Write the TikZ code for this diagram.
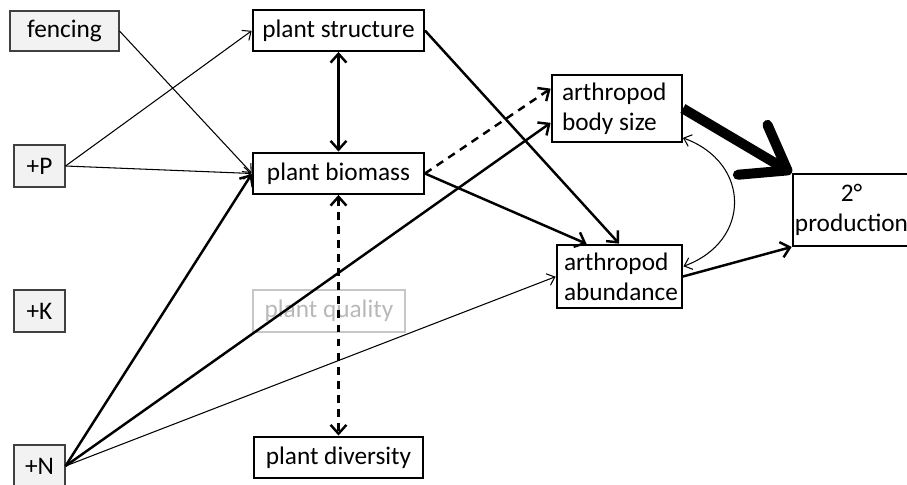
\documentclass[tikz,border=0pt]{standalone}
\usepackage{fontspec}
\setmainfont{Carlito}
\usetikzlibrary{arrows.meta}
\begin{document}
\begin{tikzpicture}[x=0.02cm, y=-0.02cm, shorten >=0.3pt,
main node/.style={rectangle,draw,line width=1.1pt,inner sep=0pt},
treat node/.style={rectangle,draw=black!75,fill=black!5,line width=0.6pt,inner sep=0pt,minimum width=1.02cm,minimum height=0.84cm},
thin path/.style={line width=0.6pt,-{Straight Barb[length=4pt,width=7pt]}},
thick path/.style={line width=1.4pt,-{Straight Barb[length=5pt,width=9pt]}},
both path/.style={line width=1.4pt,{Straight Barb[length=5pt,width=9pt]}-{Straight Barb[length=5pt,width=9pt]}},
dash path/.style={dash pattern=on 4.5pt off 3.5pt}]
\useasboundingbox (0,0) rectangle (907,484);
\begin{scope}[every node/.style={font=\fontsize{14.4}{17}\selectfont}]
\node[treat node,minimum width=2.18cm,minimum height=0.8cm] (fence) at (64.5,31) {fencing};
\node[treat node] (P) at (39.5,166) {+P};
\node[treat node] (K) at (39.5,311) {+K};
\node[treat node] (N) at (39.5,466) {+N};
\node[main node,minimum width=3.42cm,minimum height=0.82cm] (struct) at (338.5,30.5) {plant structure};
\node[main node,minimum width=3.42cm,minimum height=0.82cm] (biomass) at (338.5,173.5) {plant biomass};
\node[main node,draw=black!22,text=black!28,minimum width=3.04cm,minimum height=0.84cm] (quality) at (329,311) {plant quality};
\node[main node,minimum width=3.38cm,minimum height=0.82cm] (divers) at (338.5,457.5) {plant diversity};
\node[main node,minimum height=1.34cm,inner xsep=0.2cm,text width=2.2cm,align=flush left] (body) at (617,108.5) {arthropod\\body size};
\node[main node,minimum height=1.26cm,inner xsep=0.14cm,text width=2.22cm,align=flush left] (abund) at (619.5,276.5) {arthropod\\abundance};
\node[main node,line width=0.9pt,minimum width=2.34cm,minimum height=1.44cm,align=center] (prod) at (851.5,210) {2°\\production};
%\node[main node] () at (,) {};
\end{scope}
\begin{scope}
\draw (fence.east) edge[thin path] (biomass.west);
\draw (P.east) edge[thin path] (struct.west);
\draw (P.east) edge[thin path] (biomass.west);
\draw (struct) edge[both path] (biomass);
\draw (biomass.south) edge[both path,dash path] (divers.north);
\draw (biomass.east) edge[thick path,dash path] (body.163);
\draw (biomass.east) edge[thick path] (abund.135);
\draw (struct.east) edge[thick path] (abund.north);
\draw (N.east) edge[thick path] (biomass.west);
\draw (N.east) edge[thick path] (body.192);
\draw (N.east) edge[thin path] (abund.west);
\draw (body.-24) edge[thin path,<->,>={Straight Barb[length=4pt,width=7pt]},out=-20,in=20,looseness=1.45] (abund.9);
\draw (body.east) edge[line width=5.7pt,-{Straight Barb[length=23pt,width=33pt,round]}] (prod.north west);
\draw (abund.east) edge[thick path] (prod.south west);
%\draw () edge () ;
\end{scope}
\end{tikzpicture}
\end{document}
